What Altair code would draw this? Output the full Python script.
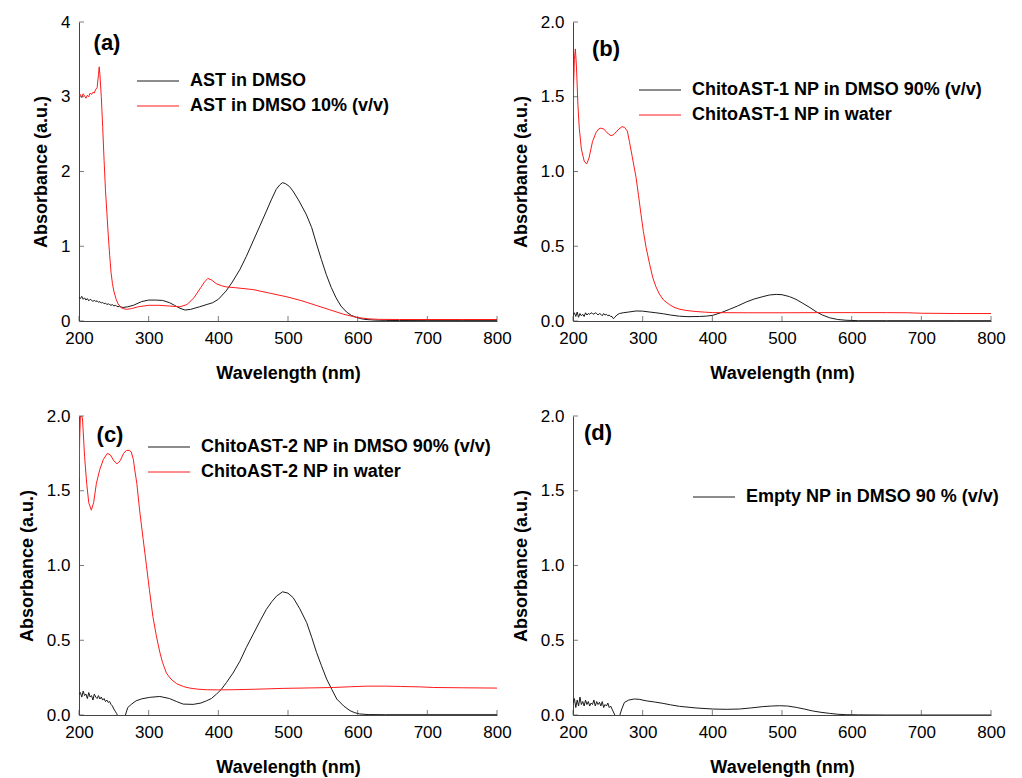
import altair as alt
import pandas as pd

FONT = "Liberation Sans"
W, H = 418, 299
BLACK = "#1a1a1a"
RED = "#ff1a1a"
AXIS = "#444444"

X_TICKS = [200, 300, 400, 500, 600, 700, 800]
Y_TICKS_A = [0, 1, 2, 3, 4]
Y_TICKS_B = [0.0, 0.5, 1.0, 1.5, 2.0]

# ---------------- (a) ----------------
a_red_name = "AST in DMSO 10% (v/v)"
a_red_wl = [200, 202, 204, 206, 208, 210, 212, 214, 216, 218, 220, 222, 224, 226, 228, 229, 230, 232, 234,
            236, 238, 240, 242, 244, 246, 248, 250, 253, 256, 260, 264, 268, 275, 285, 300, 315, 330, 345,
            355, 365, 375, 380, 385, 390, 397, 405, 412, 425, 450, 475, 500, 520, 540, 560, 580, 600, 615,
            630, 660, 700, 750, 800]
a_red_ab = [3.00, 3.03, 2.99, 3.04, 3.01, 2.98, 3.02, 3.00, 3.05, 3.03, 3.06, 3.05, 3.10, 3.12, 3.30, 3.40,
            3.30, 3.00, 2.60, 2.15, 1.75, 1.45, 1.15, 0.88, 0.65, 0.50, 0.40, 0.30, 0.23, 0.18, 0.165, 0.156,
            0.165, 0.19, 0.21, 0.21, 0.20, 0.19, 0.22, 0.31, 0.45, 0.52, 0.57, 0.55, 0.50, 0.47, 0.455, 0.445,
            0.42, 0.37, 0.32, 0.27, 0.21, 0.15, 0.09, 0.045, 0.03, 0.022, 0.02, 0.02, 0.02, 0.02]
a_blk_name = "AST in DMSO"
a_blk_wl = [200, 202, 204, 206, 208, 210, 212, 214, 216, 218, 220, 222, 224, 226, 228, 230, 232, 234, 236,
            238, 240, 242, 244, 246, 248, 250, 252, 254, 256, 258, 260, 263, 266, 270, 278, 290, 300, 310,
            320, 330, 337, 345, 352, 360, 373, 385, 392, 400, 411, 420, 431, 440, 450, 460, 469, 476, 483,
            488, 492, 496, 502, 507, 515, 526, 534, 541, 548, 555, 562, 569, 576, 584, 591, 598, 605, 612,
            625, 640, 660, 700, 750, 800]
a_blk_ab = [0.32, 0.30, 0.33, 0.29, 0.31, 0.28, 0.30, 0.27, 0.29, 0.28, 0.26, 0.28, 0.26, 0.27, 0.25, 0.26,
            0.24, 0.25, 0.23, 0.24, 0.22, 0.23, 0.22, 0.21, 0.22, 0.20, 0.21, 0.20, 0.19, 0.20, 0.19, 0.18,
            0.185, 0.19, 0.21, 0.26, 0.28, 0.28, 0.275, 0.245, 0.21, 0.17, 0.147, 0.155, 0.19, 0.225, 0.245,
            0.29, 0.40, 0.52, 0.69, 0.86, 1.07, 1.28, 1.47, 1.62, 1.76, 1.82, 1.85, 1.84, 1.80, 1.74, 1.62,
            1.43, 1.25, 1.03, 0.82, 0.62, 0.45, 0.31, 0.20, 0.12, 0.075, 0.05, 0.03, 0.02, 0.012, 0.008,
            0.006, 0.005, 0.005, 0.005]

# ---------------- (b) ----------------
b_red_name = "ChitoAST-1 NP in water"
b_red_wl = [200, 201, 202, 203.4, 205, 207, 209, 212, 216, 219.6, 223, 228, 233, 237, 240, 244, 248, 251,
            254.6, 258, 262, 266, 270.4, 274, 278, 281, 285, 290.5, 294, 297.7, 301, 305, 310, 314.5, 319,
            324, 330, 338.4, 345, 352, 362, 375, 390, 400.7, 450, 500, 550, 600, 650, 680, 700, 750, 800]
b_red_ab = [1.36, 1.60, 1.75, 1.82, 1.70, 1.45, 1.29, 1.15, 1.07, 1.05, 1.09, 1.20, 1.26, 1.285, 1.29, 1.285,
            1.265, 1.25, 1.24, 1.245, 1.265, 1.285, 1.30, 1.295, 1.27, 1.20, 1.10, 0.96, 0.84, 0.71, 0.60,
            0.49, 0.38, 0.29, 0.23, 0.18, 0.14, 0.11, 0.092, 0.08, 0.071, 0.064, 0.059, 0.056, 0.055, 0.055,
            0.056, 0.056, 0.056, 0.055, 0.052, 0.05, 0.05]
b_blk_name = "ChitoAST-1 NP in DMSO 90% (v/v)"
b_blk_wl = [200, 202, 204, 206, 208, 210, 212, 214, 216, 218, 220, 222, 224, 226, 228, 230, 232, 234, 236,
            238, 240, 242, 244, 246, 248, 250, 252, 254, 256, 258, 260, 263, 266.6, 272, 280, 290.5, 300,
            310, 319, 330, 340, 352.8, 365, 381.5, 392, 400.7, 412, 424.6, 436, 448.6, 460, 472.5, 482,
            491.7, 500, 510.8, 520, 530, 540, 549, 558, 568, 580, 592, 610, 650, 700, 750, 800]
b_blk_ab = [0.04, 0.055, 0.03, 0.06, 0.025, 0.05, 0.035, 0.045, 0.03, 0.055, 0.04, 0.05, 0.045, 0.055, 0.05,
            0.045, 0.055, 0.05, 0.04, 0.05, 0.045, 0.035, 0.05, 0.04, 0.045, 0.035, 0.04, 0.03, 0.03, 0.015,
            0.025, 0.04, 0.05, 0.055, 0.06, 0.067, 0.066, 0.06, 0.055, 0.048, 0.04, 0.032, 0.029, 0.03,
            0.033, 0.038, 0.055, 0.078, 0.10, 0.127, 0.147, 0.163, 0.174, 0.178, 0.176, 0.163, 0.145, 0.118,
            0.09, 0.062, 0.04, 0.022, 0.01, 0.005, 0.002, 0.002, 0.002, 0.002, 0.002]

# ---------------- (c) ----------------
c_red_name = "ChitoAST-2 NP in water"
c_red_wl = [200, 201, 202, 203, 204, 205, 206, 208, 211, 214, 217.7, 221, 225, 229.7, 235, 240.7, 245, 250,
            254.6, 259, 264, 268, 271.9, 275, 278, 280, 283, 287, 292, 296.8, 301, 306, 311, 316, 320, 325.5,
            332, 340, 350, 359, 370, 383, 400, 421, 450, 493, 530, 565, 590, 613, 640, 661, 690, 709, 750, 800]
c_red_ab = [1.58, 1.85, 2.0, 2.0, 2.0, 1.98, 1.90, 1.73, 1.55, 1.42, 1.37, 1.42, 1.55, 1.64, 1.71, 1.75, 1.74,
            1.70, 1.68, 1.70, 1.75, 1.77, 1.77, 1.76, 1.71, 1.64, 1.55, 1.37, 1.18, 1.00, 0.84, 0.66, 0.53,
            0.42, 0.35, 0.28, 0.24, 0.21, 0.19, 0.18, 0.173, 0.169, 0.168, 0.169, 0.172, 0.178, 0.181, 0.184,
            0.189, 0.193, 0.193, 0.191, 0.188, 0.184, 0.182, 0.18]
c_blk_name = "ChitoAST-2 NP in DMSO 90% (v/v)"
c_blk_wl = [200, 202, 204, 206, 208, 210, 212, 214, 216, 218, 220, 222, 224, 226, 228, 230, 232, 234, 236,
            238, 240, 242, 244, 246, 248, 250, 252, 254, 256, 258, 262, 266, 268, 270, 276, 282, 290, 301.6,
            316, 330, 340, 349.5, 363.9, 375, 383, 390, 397.4, 404, 411.8, 421, 431, 440, 450, 460, 469, 477,
            483.7, 492.3, 500, 507.6, 517, 526.8, 534, 541, 548, 555.5, 563, 570, 580, 589, 596, 603, 615,
            640, 700, 800]
c_blk_ab = [0.14, 0.15, 0.12, 0.16, 0.13, 0.14, 0.11, 0.15, 0.12, 0.13, 0.10, 0.14, 0.12, 0.11, 0.13, 0.107,
            0.12, 0.10, 0.11, 0.09, 0.10, 0.084, 0.09, 0.07, 0.06, 0.04, 0.025, 0.01, -0.01, -0.03, -0.04,
            -0.01, 0.02, 0.05, 0.075, 0.095, 0.108, 0.118, 0.124, 0.11, 0.09, 0.073, 0.071, 0.08, 0.095,
            0.11, 0.14, 0.17, 0.218, 0.28, 0.36, 0.45, 0.54, 0.63, 0.707, 0.76, 0.796, 0.824, 0.815, 0.784,
            0.71, 0.618, 0.52, 0.418, 0.33, 0.24, 0.17, 0.107, 0.06, 0.029, 0.015, 0.007, 0.003, 0.002,
            0.002, 0.002]

# ---------------- (d) ----------------
d_blk_name = "Empty NP in DMSO 90 % (v/v)"
d_blk_wl = [200, 202, 204, 206, 208, 210, 212, 214, 216, 218, 220, 222, 224, 226, 228, 230, 232, 234, 236,
            238, 240, 242, 244, 246, 248, 250, 252, 254, 256, 258, 260, 263, 266.6, 270, 273.8, 280, 288,
            295, 305, 317, 329, 340, 352.8, 376.7, 400.7, 420, 439, 455, 472.5, 485, 496.5, 508, 520.4, 532,
            544, 556, 568, 580, 592, 610, 650, 700, 800]
d_blk_ab = [0.08, 0.11, 0.05, 0.10, 0.06, 0.12, 0.07, 0.09, 0.06, 0.10, 0.07, 0.09, 0.06, 0.08, 0.07, 0.10,
            0.06, 0.09, 0.07, 0.085, 0.06, 0.09, 0.05, 0.07, 0.06, 0.08, 0.05, 0.06, 0.04, 0.02, 0.0, -0.04,
            -0.01, 0.04, 0.084, 0.10, 0.107, 0.105, 0.095, 0.087, 0.078, 0.068, 0.058, 0.047, 0.04, 0.038,
            0.04, 0.047, 0.056, 0.06, 0.062, 0.06, 0.051, 0.04, 0.027, 0.018, 0.011, 0.005, 0.002, 0.001,
            0.0, 0.0, 0.0]


def panel(series, ydomain, yticks, yfmt, label, label_xy, legend_xy):
    rows = []
    for name, wl, ab, _ in series:
        rows += [{"series": name, "wl": w, "ab": v} for w, v in zip(wl, ab)]
    df = pd.DataFrame(rows)
    names = [s[0] for s in series]
    colors = [s[3] for s in series]

    xenc = alt.X("wl:Q", scale=alt.Scale(domain=[200, 800], nice=False, zero=False),
                 axis=alt.Axis(values=X_TICKS, title="Wavelength (nm)", format="d"))
    yenc = alt.Y("ab:Q", scale=alt.Scale(domain=ydomain, nice=False),
                 axis=alt.Axis(values=yticks, title="Absorbance (a.u.)", format=yfmt))

    lines = alt.Chart(df).mark_line(strokeWidth=1, clip=True).encode(
        x=xenc, y=yenc,
        color=alt.Color("series:N", scale=alt.Scale(domain=names, range=colors),
                        legend=alt.Legend(orient="none", legendX=legend_xy[0], legendY=legend_xy[1],
                                          title=None, symbolType="M-2,0H2", symbolSize=441,
                                          symbolStrokeWidth=1, labelFont=FONT, labelFontSize=18,
                                          labelFontWeight="bold", labelColor="black", labelOffset=21,
                                          labelLimit=600, rowPadding=5)),
    )
    xt = alt.Chart(pd.DataFrame({"wl": X_TICKS})).mark_tick(
        orient="vertical", size=5, thickness=1, color=AXIS).encode(x=xenc, y=alt.value(H - 2.5))
    yt = alt.Chart(pd.DataFrame({"ab": yticks})).mark_tick(
        orient="horizontal", size=5, thickness=1, color=AXIS).encode(y=yenc, x=alt.value(2.5))
    lab = alt.Chart(pd.DataFrame({"t": [label]})).mark_text(
        font=FONT, fontSize=22, fontWeight="bold", color="black").encode(
        text="t:N", x=alt.value(label_xy[0]), y=alt.value(label_xy[1]))
    return alt.layer(lines, xt, yt, lab).properties(width=W, height=H)


pa = panel([(a_blk_name, a_blk_wl, a_blk_ab, BLACK), (a_red_name, a_red_wl, a_red_ab, RED)],
           [0, 4], Y_TICKS_A, "d", "(a)", (28, 21), (68, 48))
pb = panel([(b_blk_name, b_blk_wl, b_blk_ab, BLACK), (b_red_name, b_red_wl, b_red_ab, RED)],
           [0, 2], Y_TICKS_B, ".1f", "(b)", (33, 27), (76, 57))
pc = panel([(c_blk_name, c_blk_wl, c_blk_ab, BLACK), (c_red_name, c_red_wl, c_red_ab, RED)],
           [0, 2], Y_TICKS_B, ".1f", "(c)", (31, 19), (79, 20))
pd_ = panel([(d_blk_name, d_blk_wl, d_blk_ab, BLACK)],
            [0, 2], Y_TICKS_B, ".1f", "(d)", (25, 17), (130, 70))

chart = alt.concat(pa, pb, pc, pd_, columns=2, spacing={"row": 25, "column": 0}).resolve_scale(
    color="independent", x="independent", y="independent"
).configure_view(stroke=None).configure_axis(
    grid=False, domainColor=AXIS, domainWidth=1, ticks=False,
    labelFont=FONT, labelFontSize=17, labelColor="black", labelPadding=9,
    labelFlush=False, labelOverlap=False,
    titleFont=FONT, titleFontSize=18, titleFontWeight="bold", titleColor="black",
).configure_axisX(titlePadding=18).configure_axisY(titlePadding=10).properties(
    padding={"left": 10, "top": 5, "right": 5, "bottom": 5}
)

chart.save("out.html", embed_options={"renderer": "svg", "actions": False})
